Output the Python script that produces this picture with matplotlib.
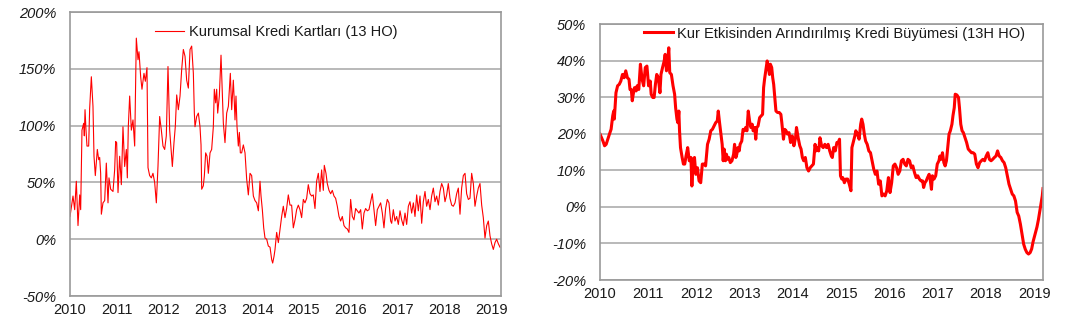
import matplotlib
matplotlib.use("Agg")
import matplotlib.pyplot as plt
from matplotlib.ticker import FixedLocator, FuncFormatter

plt.rcParams['font.family'] = ['Liberation Sans', 'DejaVu Sans']

# Corporate credit cards, 13-week annualised growth (%); x in years since 2010
kkk_t = [
    0.000, 0.064, 0.100, 0.135, 0.171, 0.207, 0.228, 0.256, 0.292, 0.306, 0.321, 0.342, 0.363, 0.399,
    0.420, 0.456, 0.491, 0.513, 0.541, 0.584, 0.613, 0.634, 0.655, 0.670, 0.705, 0.741, 0.776, 0.812,
    0.833, 0.869, 0.919, 0.954, 0.976, 0.997, 1.026, 1.061, 1.097, 1.132, 1.168, 1.204, 1.225, 1.246,
    1.275, 1.311, 1.346, 1.382, 1.417, 1.453, 1.474, 1.510, 1.538, 1.581, 1.610, 1.645, 1.667, 1.702,
    1.738, 1.773, 1.809, 1.845, 1.880, 1.916, 1.952, 1.987, 2.023, 2.058, 2.094, 2.130, 2.165, 2.187,
    2.222, 2.250, 2.280, 2.315, 2.351, 2.386, 2.422, 2.458, 2.493, 2.529, 2.565, 2.600, 2.636, 2.657,
    2.671, 2.707, 2.743, 2.778, 2.800, 2.814, 2.849, 2.871, 2.899, 2.928, 2.956, 2.992, 3.027, 3.063,
    3.084, 3.113, 3.134, 3.156, 3.191, 3.227, 3.255, 3.277, 3.312, 3.348, 3.384, 3.405, 3.426, 3.455,
    3.490, 3.512, 3.526, 3.547, 3.569, 3.597, 3.619, 3.640, 3.668, 3.704, 3.740, 3.775, 3.811, 3.847,
    3.882, 3.918, 3.953, 3.989, 4.025, 4.060, 4.082, 4.110, 4.139, 4.167, 4.203, 4.238, 4.274, 4.310,
    4.331, 4.360, 4.381, 4.416, 4.452, 4.488, 4.523, 4.558, 4.594, 4.629, 4.665, 4.701, 4.736, 4.772,
    4.808, 4.843, 4.879, 4.914, 4.950, 4.986, 5.021, 5.057, 5.092, 5.128, 5.164, 5.199, 5.235, 5.270,
    5.306, 5.342, 5.377, 5.413, 5.434, 5.470, 5.498, 5.534, 5.570, 5.605, 5.641, 5.676, 5.712, 5.748,
    5.783, 5.819, 5.855, 5.890, 5.926, 5.961, 5.997, 6.033, 6.068, 6.104, 6.139, 6.175, 6.211, 6.246,
    6.282, 6.317, 6.353, 6.389, 6.424, 6.460, 6.496, 6.531, 6.567, 6.602, 6.638, 6.674, 6.709, 6.745,
    6.780, 6.816, 6.852, 6.874, 6.909, 6.945, 6.980, 7.016, 7.052, 7.087, 7.123, 7.159, 7.194, 7.230,
    7.265, 7.301, 7.337, 7.372, 7.408, 7.443, 7.479, 7.515, 7.550, 7.586, 7.621, 7.657, 7.693, 7.728,
    7.764, 7.800, 7.835, 7.871, 7.906, 7.942, 7.978, 8.013, 8.049, 8.084, 8.120, 8.156, 8.191, 8.227,
    8.262, 8.298, 8.334, 8.369, 8.405, 8.441, 8.476, 8.512, 8.547, 8.583, 8.619, 8.654, 8.690, 8.725,
    8.761, 8.797, 8.832, 8.868, 8.904, 8.939, 8.975, 9.010, 9.046, 9.082, 9.117, 9.153, 9.188,
]
kkk_v = [
    20, 38, 26, 51, 12, 39, 26, 96, 102, 91, 114, 96, 82, 82,
    115, 143, 117, 73, 56, 79, 70, 72, 58, 22, 32, 34, 67, 32,
    54, 44, 42, 61, 86, 85, 41, 73, 48, 99, 64, 79, 54, 99,
    126, 96, 105, 82, 177, 158, 165, 143, 132, 146, 139, 151, 63, 56,
    54, 58, 50, 32, 64, 108, 96, 82, 79, 91, 152, 96, 76, 64,
    85, 99, 127, 114, 126, 149, 167, 161, 140, 133, 167, 170, 146, 111,
    99, 108, 111, 99, 83, 44, 47, 56, 76, 73, 58, 76, 79, 99,
    132, 120, 132, 111, 126, 162, 129, 102, 85, 111, 117, 132, 146, 114,
    140, 120, 105, 126, 99, 82, 94, 76, 76, 83, 76, 53, 39, 58,
    56, 38, 34, 32, 25, 51, 38, 26, 10, 1, 0, -6, -7, -18,
    -21, -15, -9, 6, -3, 9, 20, 29, 19, 27, 39, 30, 30, 10,
    17, 26, 30, 26, 19, 35, 32, 36, 48, 40, 38, 39, 27, 51,
    58, 42, 61, 43, 65, 58, 49, 43, 40, 43, 38, 36, 29, 20,
    16, 20, 12, 10, 9, 6, 35, 20, 17, 27, 25, 23, 26, 9,
    23, 27, 25, 26, 33, 40, 26, 12, 26, 29, 32, 23, 10, 27,
    35, 32, 16, 14, 26, 16, 20, 13, 25, 17, 12, 23, 13, 29,
    33, 23, 32, 20, 39, 25, 38, 14, 33, 42, 29, 35, 26, 38,
    45, 33, 38, 30, 42, 49, 45, 33, 39, 49, 36, 30, 29, 32,
    40, 45, 22, 45, 56, 58, 40, 35, 36, 58, 49, 29, 38, 45,
    49, 30, 19, 1, 12, 16, 3, -4, -9, -3, 0, -4, -7,
]

# FX-adjusted loan growth, 13-week annualised (%); x in years since 2010
kur_t = [
    0.000, 0.061, 0.095, 0.128, 0.162, 0.196, 0.230, 0.264, 0.284, 0.297, 0.331, 0.365, 0.399, 0.432,
    0.466, 0.500, 0.534, 0.568, 0.601, 0.622, 0.649, 0.669, 0.689, 0.716, 0.750, 0.770, 0.804, 0.838,
    0.872, 0.905, 0.939, 0.973, 1.007, 1.041, 1.061, 1.095, 1.122, 1.149, 1.176, 1.209, 1.243, 1.264,
    1.297, 1.331, 1.351, 1.378, 1.399, 1.426, 1.446, 1.480, 1.514, 1.547, 1.568, 1.595, 1.615, 1.635,
    1.649, 1.669, 1.703, 1.730, 1.757, 1.784, 1.818, 1.851, 1.885, 1.905, 1.932, 1.959, 1.986, 2.020,
    2.054, 2.088, 2.122, 2.155, 2.189, 2.229, 2.263, 2.297, 2.331, 2.364, 2.398, 2.432, 2.452, 2.479,
    2.500, 2.533, 2.554, 2.574, 2.601, 2.621, 2.648, 2.669, 2.702, 2.736, 2.770, 2.790, 2.817, 2.837,
    2.858, 2.885, 2.905, 2.939, 2.966, 2.993, 3.020, 3.047, 3.074, 3.101, 3.128, 3.155, 3.175, 3.209,
    3.229, 3.250, 3.277, 3.310, 3.344, 3.371, 3.392, 3.412, 3.446, 3.466, 3.493, 3.513, 3.533, 3.560,
    3.581, 3.601, 3.628, 3.648, 3.682, 3.716, 3.750, 3.770, 3.804, 3.831, 3.858, 3.885, 3.919, 3.952,
    3.986, 4.020, 4.054, 4.074, 4.108, 4.142, 4.169, 4.196, 4.223, 4.257, 4.290, 4.324, 4.358, 4.392,
    4.425, 4.459, 4.480, 4.507, 4.534, 4.561, 4.594, 4.628, 4.662, 4.696, 4.730, 4.763, 4.797, 4.817,
    4.844, 4.878, 4.912, 4.939, 4.966, 4.986, 5.013, 5.034, 5.067, 5.101, 5.135, 5.169, 5.203, 5.223,
    5.250, 5.284, 5.304, 5.338, 5.372, 5.405, 5.426, 5.453, 5.480, 5.507, 5.540, 5.574, 5.608, 5.642,
    5.676, 5.709, 5.743, 5.777, 5.811, 5.845, 5.878, 5.912, 5.946, 5.980, 6.013, 6.047, 6.081, 6.115,
    6.149, 6.182, 6.216, 6.250, 6.284, 6.318, 6.351, 6.385, 6.419, 6.453, 6.486, 6.520, 6.554, 6.588,
    6.622, 6.655, 6.689, 6.710, 6.737, 6.764, 6.791, 6.824, 6.845, 6.872, 6.892, 6.926, 6.960, 6.993,
    7.027, 7.047, 7.074, 7.101, 7.129, 7.156, 7.183, 7.210, 7.237, 7.264, 7.297, 7.318, 7.345, 7.365,
    7.399, 7.433, 7.453, 7.480, 7.507, 7.534, 7.568, 7.601, 7.635, 7.669, 7.703, 7.737, 7.770, 7.804,
    7.838, 7.872, 7.906, 7.939, 7.973, 8.007, 8.041, 8.074, 8.108, 8.142, 8.176, 8.210, 8.243, 8.277,
    8.311, 8.345, 8.378, 8.412, 8.446, 8.480, 8.514, 8.547, 8.581, 8.615, 8.649, 8.682, 8.716, 8.750,
    8.784, 8.818, 8.851, 8.885, 8.919, 8.950, 8.980, 9.020, 9.060, 9.090, 9.120, 9.150, 9.170, 9.185,
]
kur_v = [
    19.9, 18.0, 16.7, 17.1, 18.5, 19.9, 21.2, 24.9, 26.2, 24.0, 31.2, 33.1, 33.5, 34.4,
    36.2, 35.3, 37.2, 35.3, 34.9, 32.1, 32.1, 29.0, 30.8, 32.6, 31.7, 33.1, 32.1, 39.0,
    34.9, 33.1, 38.1, 38.5, 33.1, 34.4, 30.8, 29.9, 29.9, 33.5, 36.2, 35.3, 31.2, 36.2,
    38.1, 39.9, 41.7, 37.2, 39.0, 43.5, 36.7, 36.2, 33.1, 30.8, 27.1, 24.0, 23.0, 26.2,
    20.8, 16.2, 13.5, 11.7, 11.7, 13.9, 16.2, 12.6, 13.5, 5.7, 13.0, 13.5, 8.9, 10.7,
    7.1, 6.6, 11.7, 11.7, 11.2, 17.1, 18.5, 20.8, 21.2, 22.1, 23.0, 23.5, 26.2, 23.0,
    20.8, 17.1, 12.6, 15.8, 12.6, 14.4, 13.0, 13.5, 12.1, 12.6, 14.4, 17.1, 13.5, 14.4,
    16.2, 15.3, 17.1, 18.0, 21.2, 20.8, 21.7, 20.8, 26.2, 23.5, 21.7, 22.6, 20.8, 21.7,
    18.5, 21.7, 22.1, 24.4, 24.9, 25.3, 32.6, 34.9, 38.1, 39.9, 38.1, 36.2, 39.0, 38.1,
    35.3, 33.5, 29.4, 26.2, 25.8, 25.8, 25.3, 23.0, 18.5, 21.2, 20.8, 19.9, 20.3, 17.6,
    19.4, 16.7, 18.9, 21.7, 18.9, 16.7, 15.8, 13.5, 12.6, 13.5, 10.7, 9.8, 10.7, 11.2,
    11.7, 17.1, 15.3, 16.2, 15.3, 18.9, 16.7, 16.2, 17.1, 16.2, 17.1, 15.3, 13.9, 13.5,
    16.2, 15.3, 17.6, 17.6, 18.5, 8.5, 7.6, 8.0, 6.6, 7.6, 7.6, 6.2, 4.4, 16.2,
    17.6, 19.4, 20.8, 19.9, 18.5, 22.6, 24.0, 22.6, 19.9, 18.0, 17.1, 15.3, 14.8, 12.6,
    10.3, 8.9, 9.8, 6.2, 7.1, 3.0, 3.5, 3.0, 4.4, 8.0, 3.9, 6.6, 11.2, 11.7,
    10.7, 8.9, 9.8, 12.6, 13.0, 11.7, 11.2, 13.0, 12.6, 10.7, 11.2, 9.4, 8.0, 8.5,
    7.6, 7.1, 7.1, 5.3, 6.6, 7.1, 8.0, 8.9, 7.6, 4.8, 8.5, 7.6, 8.5, 11.7,
    12.6, 13.9, 13.0, 14.8, 12.1, 11.2, 12.6, 16.2, 19.9, 20.8, 22.6, 24.9, 27.1, 30.8,
    30.6, 29.9, 27.1, 22.6, 20.8, 20.3, 18.9, 17.6, 15.8, 15.3, 14.8, 14.8, 14.4, 11.7,
    10.7, 12.1, 12.6, 13.0, 12.6, 13.9, 14.8, 13.0, 12.6, 13.0, 13.5, 13.9, 15.3, 13.9,
    13.5, 12.6, 12.1, 10.7, 8.5, 6.2, 4.8, 3.5, 3.0, 1.6, -1.5, -2.5, -4.7, -7.5,
    -10.2, -11.6, -12.5, -12.9, -12.5, -11.5, -9.5, -7.5, -5.5, -3.5, -1.0, 1.5, 3.0, 5.0,
]

years = list(range(2010, 2020))
left_yticks = [-50, 0, 50, 100, 150, 200]
right_yticks = [-20, -10, 0, 10, 20, 30, 40, 50]
label_left = "Kurumsal Kredi Kartları (13 HO)"
label_right = "Kur Etkisinden Arındırılmış Kredi Büyümesi (13H HO)"

W, H = 1073, 328
fig = plt.figure(figsize=(W / 100, H / 100), dpi=100)
fig.patch.set_facecolor("white")

ax1 = fig.add_axes([70 / W, 1 - 296 / H, 431 / W, 284 / H])
ax2 = fig.add_axes([600 / W, 1 - 280 / H, 443 / W, 256 / H])

text_color = "#1a1a1a"
grid_color = "#a6a6a6"
spine_color = "#999999"


def style(ax, yticks, xmax, ypad, xpad):
    ax.set_xlim(0, xmax)
    ax.set_ylim(yticks[0], yticks[-1])
    ax.yaxis.set_major_locator(FixedLocator(yticks))
    ax.yaxis.set_major_formatter(FuncFormatter(lambda v, p: f"{v:.0f}%"))
    ax.xaxis.set_major_locator(FixedLocator([y - 2010 for y in years]))
    ax.xaxis.set_major_formatter(FuncFormatter(lambda v, p: f"{int(round(v)) + 2010}"))
    ax.grid(axis="y", color=grid_color, linewidth=1.1)
    ax.set_axisbelow(True)
    for s in ax.spines.values():
        s.set_color(spine_color)
        s.set_linewidth(1.2)
    ax.tick_params(axis="y", length=0, pad=ypad, labelsize=10.5, labelcolor=text_color)
    ax.tick_params(axis="x", length=0, pad=xpad, labelsize=10.5, labelcolor=text_color)
    for lab in ax.get_yticklabels():
        lab.set_fontstyle("italic")


ax1.plot(kkk_t, kkk_v, color="#ff0000", linewidth=0.8, label=label_left)
style(ax1, left_yticks, 9.21, 10, 5)
ax1.legend(loc="upper left", bbox_to_anchor=(0.197, 0.955), frameon=False,
           fontsize=10.5, handlelength=2.0, handletextpad=0.35,
           borderpad=0, borderaxespad=0, labelcolor=text_color)

ax2.plot(kur_t, kur_v, color="#ff0000", linewidth=2.2, label=label_right)
style(ax2, right_yticks, 9.185, 10, 5)
ax2.legend(loc="upper left", bbox_to_anchor=(0.099, 0.99), frameon=False,
           fontsize=10.5, handlelength=2.0, handletextpad=0.3,
           borderpad=0, borderaxespad=0, labelcolor=text_color)

fig.savefig("out.png", dpi=100)
